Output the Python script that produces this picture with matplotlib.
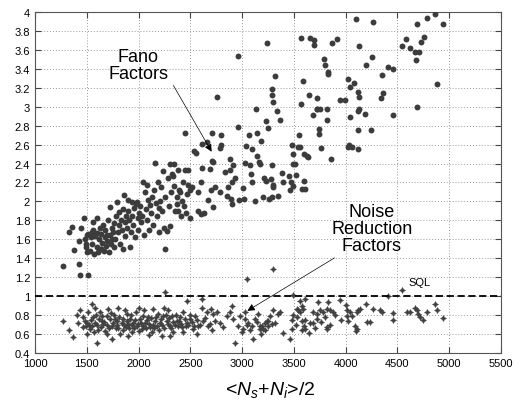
import matplotlib
matplotlib.use("Agg")
import matplotlib.pyplot as plt

plt.rcParams["font.family"] = ["Liberation Sans", "DejaVu Sans"]
plt.rcParams["mathtext.fontset"] = "custom"
plt.rcParams["mathtext.rm"] = "Liberation Sans"
plt.rcParams["mathtext.it"] = "Liberation Sans:italic"

# Fano factors
fano_x = [
    1270, 1330, 1355, 1377, 1428, 1428, 1434, 1441, 1476, 1483,
    1490, 1500, 1515, 1505, 1495,
    1515, 1530, 1540, 1547, 1555, 1563, 1570, 1580, 1596, 1600,
    1610, 1620, 1628, 1635, 1640, 1650, 1660, 1665, 1675, 1680,
    1690, 1700, 1705, 1712, 1720, 1724, 1730, 1740, 1745, 1750,
    1560, 1600, 1640, 1700, 1760,
    1760, 1770, 1780, 1790, 1800, 1810, 1813, 1820, 1830, 1840,
    1845, 1850, 1860, 1865, 1870, 1880, 1890, 1895, 1900, 1910,
    1920, 1925, 1933, 1940, 1950, 1960, 1970, 1976, 1982, 1990,
    1995, 2000,
    2010, 2020, 2030, 2046, 2050, 2062, 2070, 2078, 2085, 2095,
    2100, 2110, 2120, 2130, 2140, 2150, 2158, 2165, 2175, 2185,
    2195, 2200, 2210, 2220, 2230, 2239, 2245, 2256, 2260, 2270,
    2280, 2290, 2304, 2304, 2310, 2320,
    2329, 2342, 2342, 2350, 2368, 2370, 2380, 2384, 2390, 2400,
    2410, 2420, 2432, 2440, 2448, 2450, 2460, 2470, 2480, 2480,
    2497, 2500, 2520, 2535, 2555, 2570, 2577, 2600, 2610, 2616,
    2600, 2635,
    2664, 2674, 2690, 2700, 2706, 2706, 2716, 2722, 2740, 2757,
    2786, 2786, 2793, 2835, 2851, 2883, 2883, 2893, 2899, 2906,
    2915, 2931, 2960, 2963, 2973, 3005, 3018, 3028, 2800, 2860,
    3037, 3066, 3076, 3082, 3092, 3092, 3124, 3131, 3147, 3147,
    3165, 3173, 3185, 3211, 3228, 3228, 3248, 3243, 3285, 3280,
    3290, 3290, 3301, 3301, 3290, 3318, 3334, 3369, 3382, 3392,
    3300, 3200, 3260, 3350,
    3450, 3470, 3478, 3495, 3495, 3495, 3511, 3520, 3537, 3546,
    3560, 3566, 3566, 3580, 3591, 3598, 3600, 3610, 3623, 3636,
    3650, 3660, 3685, 3694, 3694, 3720, 3727, 3727, 3460,
    3746, 3746, 3752, 3759, 3790, 3800, 3817, 3817, 3825, 3830,
    3855, 3865, 3913, 3945, 3993,
    4022, 4030, 4039, 4045, 4060, 4080, 4097, 4117, 4117, 4117,
    4122, 4125, 4129, 4129, 4190, 4197, 4241, 4251, 4267, 4338,
    4354, 4363, 4412, 4454, 4460, 4020,
    4547, 4579, 4621, 4669, 4708, 4692, 4689, 4676, 4724, 4760,
    4782, 4862, 4879, 4943,
]
fano_y = [
    1.32, 1.68, 1.73, 1.49, 1.58, 1.34, 1.22, 1.72, 1.83, 1.60,
    1.52, 1.47, 1.22, 1.65, 1.55,
    1.66, 1.48, 1.62, 1.68, 1.55, 1.70, 1.45, 1.64, 1.67, 1.52,
    1.47, 1.60, 1.72, 1.50, 1.66, 1.56, 1.75, 1.48, 1.62, 1.70,
    1.53, 1.58, 1.80, 1.47, 1.65, 1.94, 1.55, 1.72, 1.60, 1.68,
    1.78, 1.83, 1.50, 1.65, 1.52,
    1.77, 1.60, 1.85, 1.99, 1.68, 1.75, 1.89, 1.55, 1.80, 1.70,
    1.50, 1.92, 2.07, 1.78, 1.63, 1.85, 1.72, 2.02, 1.90, 1.80,
    1.52, 1.68, 1.99, 1.85, 1.75, 1.93, 1.62, 1.97, 1.99, 1.82,
    1.70, 1.88,
    1.95, 1.78, 1.85, 2.21, 1.65, 2.10, 1.92, 2.17, 1.80, 2.02,
    1.70, 1.96, 1.88, 2.05, 1.75, 2.12, 2.41, 1.98, 1.85, 2.20,
    1.93, 1.68, 2.00, 2.15, 1.90, 2.32, 1.72, 1.50, 2.05, 1.69,
    2.25, 1.95, 2.39, 1.74, 2.10, 2.29,
    2.27, 2.16, 2.39, 1.90, 1.97, 2.05, 1.90, 2.33, 2.12, 2.10,
    1.85, 2.00, 2.20, 1.95, 2.72, 2.33, 1.88, 2.08, 2.17, 2.33,
    1.83, 2.12, 2.15, 2.53, 2.51, 2.10, 1.90, 2.20, 2.61, 2.35,
    1.87, 1.88,
    2.63, 2.01, 2.34, 2.12, 2.72, 2.43, 1.94, 2.42, 2.15, 3.10,
    2.56, 2.10, 2.70, 2.31, 2.06, 2.45, 2.33, 2.03, 2.20, 1.97,
    2.38, 2.25, 3.54, 2.79, 2.01, 2.14, 2.03, 2.41, 2.60, 2.15,
    2.59, 2.70, 2.38, 2.29, 2.20, 2.55, 2.00, 2.98, 2.72, 2.48,
    2.42, 2.40, 2.64, 2.25, 2.22, 2.85, 2.78, 3.67, 2.38, 2.24,
    3.19, 3.12, 3.05, 2.15, 2.05, 3.32, 2.95, 2.86, 2.30, 2.20,
    2.17, 2.05, 2.03, 2.06,
    2.27, 2.20, 2.60, 2.50, 2.40, 2.16, 2.40, 2.28, 2.58, 2.70,
    2.57, 3.03, 3.73, 2.13, 3.27, 2.22, 2.50, 2.13, 2.48, 2.47,
    3.12, 3.73, 2.91, 3.65, 3.70, 2.98, 3.09, 2.98, 2.12,
    2.76, 2.71, 2.98, 2.56, 3.50, 3.44, 2.98, 2.86, 3.37, 3.35,
    2.45, 3.67, 3.71, 3.07, 3.07,
    3.29, 2.60, 2.89, 3.21, 2.57, 3.25, 3.93, 3.16, 2.96, 2.55,
    2.75, 3.10, 2.98, 3.64, 2.92, 3.44, 2.75, 3.52, 3.89, 3.09,
    3.33, 3.14, 3.42, 3.40, 2.91, 2.58,
    3.64, 3.71, 3.62, 3.58, 3.58, 3.87, 3.00, 3.49, 3.68, 3.74,
    3.94, 3.98, 3.24, 3.87,
]

# Noise reduction factors
nrf_x = [
    1274, 1332, 1370, 1402, 1418, 1435, 1467, 1483, 1499, 1505,
    1515, 1531, 1547, 1563, 1579, 1596, 1612, 1628, 1644, 1660,
    1692, 1708, 1724, 1740, 1756, 1773, 1789, 1805, 1837, 1853,
    1869, 1885, 1901, 1917, 1933, 1950, 1975, 1988, 2014, 2030,
    2046, 2062, 2094, 2111, 2127, 2143, 2159, 2191, 2207, 2223,
    2239, 2255, 2272, 2288, 2304, 2320, 2336, 2368, 2400, 2416,
    2432, 2465, 2471, 2497, 2529, 2545, 2577, 2610, 2610, 2626,
    2658, 2690, 2706, 2722, 2754, 2787, 2819, 2851, 2883, 2899,
    2915, 2931, 2964, 2980, 3012, 3028, 3060, 3076, 3108, 3124,
    3157, 3173, 3205, 3237,
    1460, 1490, 1520, 1540, 1555, 1570, 1585, 1600, 1620, 1635,
    1650, 1670, 1680, 1700, 1715, 1730, 1745, 1765, 1780, 1795,
    1815, 1825, 1845, 1860, 1875, 1890, 1910, 1925, 1940, 1960,
    1970, 1995, 2005, 2020, 2040, 2055, 2070, 2080, 2100, 2120,
    2135, 2150, 2170, 2180, 2200, 2215, 2230, 2250, 2265, 2280,
    2295, 2310, 2330, 2350, 2360, 2380, 2390, 2410, 2425, 2445,
    2455, 2480, 2500, 2515, 2535, 2560, 2590, 2640, 2670, 2740,
    1580, 1700, 1900, 2100, 2300, 1800, 2000, 2250, 2560, 2700,
    3173, 3189, 3221, 3253, 3270, 3302, 3286, 3318, 3350, 3366,
    3392, 3463, 3495, 3000, 3030, 3050, 3100, 3140, 3180, 3220,
    3250, 3050, 3301,
    3559, 3608, 3575, 3543, 3591, 3559, 3527, 3495, 3527, 3479,
    3575, 3608, 3479, 3608, 3575, 3736, 3833, 3946, 3688, 3720,
    3752, 3785, 3817, 3849, 3881, 3656, 3688, 3720, 3817, 3817,
    4003, 4016, 4042, 4010, 4026, 4058, 4123, 4106, 4139, 4090,
    4106, 4100, 4197, 4267, 4332, 4348, 4203, 4235, 4461, 4454,
    4589, 4622, 4670, 4686, 4702, 4718, 4750, 4783, 4863, 4879,
    4943, 4412, 4547,
    3520, 3600, 3650, 3700, 3760, 3800, 3850, 3900, 3950,
]
nrf_y = [
    0.74, 0.64, 0.57, 0.80, 0.72, 0.85, 0.67, 0.74, 0.72, 0.60,
    0.83, 0.65, 0.92, 0.78, 0.72, 0.51, 0.64, 0.83, 0.74, 0.71,
    0.79, 0.86, 0.76, 0.55, 0.72, 0.76, 0.74, 0.66, 0.72, 0.64,
    0.85, 0.81, 0.71, 0.76, 0.62, 0.72, 0.83, 0.69, 0.76, 0.65,
    0.79, 0.72, 0.78, 0.67, 0.62, 0.86, 0.74, 0.81, 0.72, 0.58,
    0.79, 1.04, 0.74, 0.85, 0.69, 0.79, 0.62, 0.74, 0.78, 0.67,
    0.83, 0.95, 0.72, 0.76, 0.65, 0.79, 0.69, 0.97, 0.88, 0.74,
    0.83, 0.71, 0.64, 0.81, 0.83, 0.72, 0.67, 0.79, 0.83, 0.90,
    0.76, 0.51, 0.69, 0.79, 0.65, 0.83, 0.72, 0.64, 0.55, 0.76,
    0.81, 0.69, 0.65, 0.74,
    0.78, 0.69, 0.70, 0.75, 0.68, 0.62, 0.80, 0.70, 0.76, 0.67,
    0.79, 0.73, 0.63, 0.70, 0.66, 0.82, 0.68, 0.80, 0.66, 0.70,
    0.78, 0.60, 0.76, 0.70, 0.67, 0.74, 0.66, 0.80, 0.70, 0.66,
    0.75, 0.71, 0.63, 0.72, 0.68, 0.85, 0.66, 0.75, 0.71, 0.77,
    0.70, 0.66, 0.78, 0.69, 0.64, 0.76, 0.70, 0.66, 0.80, 0.71,
    0.77, 0.66, 0.73, 0.70, 0.80, 0.68, 0.74, 0.71, 0.62, 0.76,
    0.69, 0.70, 0.80, 0.73, 0.68, 0.75, 0.70, 0.77, 0.68, 0.74,
    0.88, 0.60, 0.58, 0.59, 0.58, 0.88, 0.88, 0.87, 0.60, 0.86,
    0.65, 0.69, 0.72, 0.74, 0.79, 0.85, 0.71, 0.72, 0.81, 0.83,
    0.61, 0.55, 1.01, 0.62, 0.76, 0.70, 0.68, 0.73, 0.60, 0.64,
    0.68, 1.18, 1.29,
    0.95, 0.97, 0.90, 0.85, 0.86, 0.83, 0.86, 0.80, 0.78, 0.75,
    0.74, 0.75, 0.65, 0.65, 0.64, 0.94, 0.94, 0.96, 0.83, 0.81,
    0.85, 0.83, 0.86, 0.85, 0.83, 0.72, 0.72, 0.76, 0.67, 0.65,
    0.91, 0.85, 0.83, 0.79, 0.74, 0.79, 0.85, 0.83, 0.86, 0.69,
    0.65, 0.63, 0.92, 0.86, 0.85, 0.83, 0.73, 0.73, 0.82, 0.75,
    0.83, 0.83, 0.88, 0.85, 0.81, 0.78, 0.75, 0.83, 0.92, 0.85,
    0.77, 1.00, 1.06,
    0.70, 0.68, 0.61, 0.66, 0.73, 0.78, 0.70, 0.80, 0.75,
]

x_ticks = list(range(1000, 5501, 500))
y_ticks = [round(0.4 + 0.2 * i, 1) for i in range(19)]

fig = plt.figure(figsize=(5.2, 4.1), dpi=100)
ax = fig.add_axes([0.0673, 0.1366, 0.8962, 0.8317])

ax.scatter(fano_x, fano_y, s=18, color="#3c3c3c", linewidths=0, zorder=3)
ax.scatter(nrf_x, nrf_y, s=18, marker=(4, 1, 0), color="#404040",
           linewidths=0.4, zorder=3)
ax.axhline(1.0, color="black", linestyle=(0, (4, 2)), linewidth=1.3, zorder=4)

ax.set_xlim(1000, 5500)
ax.set_ylim(0.4, 4)
ax.set_xticks(x_ticks)
ax.set_yticks(y_ticks)
ax.set_yticklabels([f"{v:g}" for v in y_ticks])
ax.tick_params(direction="in", length=4, labelsize=8, top=True, right=True,
               color="#444444")
ax.grid(True, linestyle=(0, (1, 2)), color="#9a9a9a", linewidth=0.7)
for sp in ax.spines.values():
    sp.set_color("#555555")

# Annotations
ax.text(1995, 3.44, "Fano\nFactors", fontsize=13, ha="center", va="center",
        linespacing=1.0)
ax.annotate("", xy=(2719, 2.50), xytext=(2323, 3.25),
            arrowprops=dict(arrowstyle="-|>", color="black", lw=0.5,
                            mutation_scale=11))
ax.text(4254, 1.71, "Noise\nReduction\nFactors", fontsize=13, ha="center",
        va="center", linespacing=1.0)
ax.annotate("", xy=(3028, 0.83), xytext=(3916, 1.42),
            arrowprops=dict(arrowstyle="-|>", color="black", lw=0.5,
                            mutation_scale=11))
ax.text(4718, 1.15, "SQL", fontsize=8, ha="center", va="center")

ax.set_xlabel(r"<$N_s$+$N_i$>/2", fontsize=14, va="top")
ax.xaxis.set_label_coords(0.504, -0.075)

fig.savefig("out.png", dpi=100)
